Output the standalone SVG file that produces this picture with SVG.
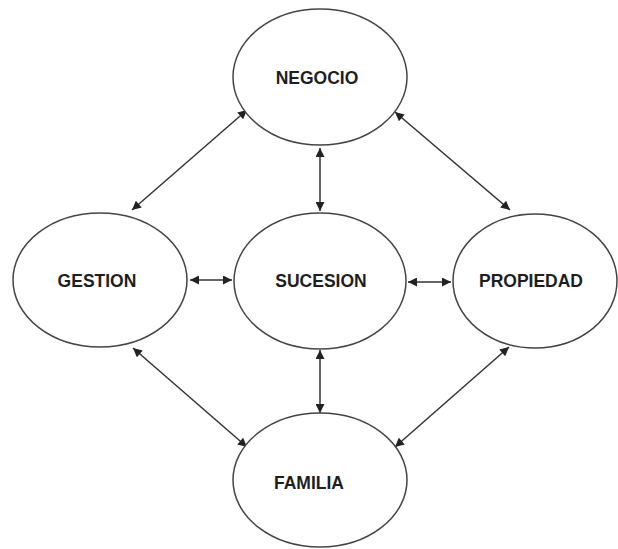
<svg xmlns="http://www.w3.org/2000/svg" width="618" height="549" viewBox="0 0 618 549">
  <defs>
    <marker id="ah" viewBox="0 0 10 10" refX="10" refY="5" markerWidth="10" markerHeight="9" markerUnits="userSpaceOnUse" orient="auto-start-reverse">
      <path d="M0,0 L10,5 L0,10 z" fill="#222"/>
    </marker>
    <style>
      .node ellipse { fill: #ffffff; stroke: #444; stroke-width: 1.5; }
      .node text { font-family: "Liberation Sans", Arial, sans-serif; font-weight: bold; font-size: 17.5px; fill: #1e1e1e; text-anchor: middle; }
      .conn line { stroke: #333; stroke-width: 1.5; marker-start: url(#ah); marker-end: url(#ah); }
    </style>
  </defs>
  <rect width="618" height="549" fill="#ffffff"/>
  <g id="connectors" class="conn">
    <line x1="320" y1="148" x2="320" y2="211"/>
    <line x1="320" y1="350" x2="320" y2="413"/>
    <line x1="190" y1="280" x2="232" y2="280"/>
    <line x1="408" y1="282" x2="451" y2="282"/>
    <line x1="247" y1="110" x2="132" y2="210"/>
    <line x1="395" y1="112" x2="510" y2="210"/>
    <line x1="133" y1="348" x2="247" y2="447"/>
    <line x1="509" y1="347" x2="395" y2="447"/>
  </g>
  <g id="negocio" class="node">
    <ellipse cx="320" cy="77" rx="87" ry="68"/>
    <text x="317" y="84">NEGOCIO</text>
  </g>
  <g id="gestion" class="node">
    <ellipse cx="100" cy="280" rx="87" ry="67"/>
    <text x="97" y="287">GESTION</text>
  </g>
  <g id="sucesion" class="node">
    <ellipse cx="320" cy="281" rx="86" ry="68"/>
    <text x="321" y="287">SUCESION</text>
  </g>
  <g id="propiedad" class="node">
    <ellipse cx="535" cy="281" rx="82" ry="67"/>
    <text x="531" y="287">PROPIEDAD</text>
  </g>
  <g id="familia" class="node">
    <ellipse cx="320" cy="480" rx="87" ry="67"/>
    <text x="309" y="489">FAMILIA</text>
  </g>
</svg>
